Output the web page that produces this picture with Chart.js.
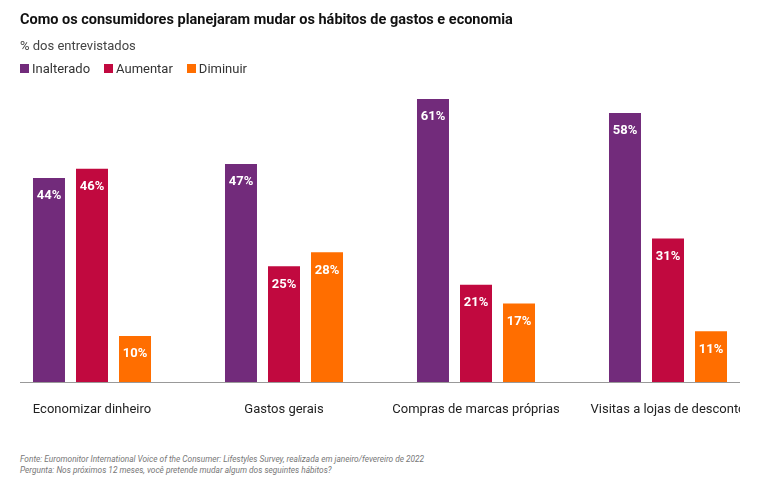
<!DOCTYPE html>
<html><head><meta charset="utf-8">
<script src="https://cdn.jsdelivr.net/npm/chart.js@4"></script>
<style>
body{margin:0;width:761px;height:491px;background:#fff;font-family:Roboto,"Liberation Sans",sans-serif;position:relative;overflow:hidden}
#t{position:absolute;left:20px;top:11px;font-weight:bold;font-size:14.5px;color:#111}
#s{position:absolute;left:20px;top:38px;font-size:13px;color:#444}
#lg{position:absolute;left:20px;top:61px;font-size:13px;color:#333}
#lg span{margin-right:14px}
#lg i{display:inline-block;width:9px;height:9px;margin-right:3px}
#f{position:absolute;left:20px;top:454px;font-size:8.3px;font-style:italic;color:#777;line-height:11px}
#w{position:absolute;left:0;top:0;width:740px;height:430px;overflow:hidden}
#cw{position:absolute;left:-4px;top:0;width:768px;height:430px}
</style></head><body>
<div id="w"><div id="cw"><canvas id="c"></canvas></div></div>
<div id="t">Como os consumidores planejaram mudar os hábitos de gastos e economia</div>
<div id="s">% dos entrevistados</div>
<div id="lg"><span><i style="background:#722B7B"></i>Inalterado</span><span><i style="background:#C1093F"></i>Aumentar</span><span><i style="background:#FF6E00"></i>Diminuir</span></div>
<div id="f">Fonte: Euromonitor International Voice of the Consumer: Lifestyles Survey, realizada em janeiro/fevereiro de 2022<br>Pergunta: Nos próximos 12 meses, você pretende mudar algum dos seguintes hábitos?</div>
<script>
const categories=["Economizar dinheiro","Gastos gerais","Compras de marcas próprias","Visitas a lojas de desconto"];
const inalterado=[44,47,61,58];
const aumentar=[46,25,21,31];
const diminuir=[10,28,17,11];
const seriesNames=["Inalterado","Aumentar","Diminuir"];
const colors=["#722B7B","#C1093F","#FF6E00"];
const labelsPlugin={id:'lbl',afterDatasetsDraw(ch){const c=ch.ctx;c.save();c.fillStyle='#fff';c.font='bold 13px Roboto, sans-serif';c.textAlign='center';c.textBaseline='middle';
ch.data.datasets.forEach((d,i)=>{ch.getDatasetMeta(i).data.forEach((b,j)=>{c.fillText(d.data[j]+'%',b.x,b.y+18);});});
const a=ch.chartArea;c.strokeStyle='#999';c.lineWidth=1;c.beginPath();c.moveTo(24,Math.round(a.bottom)+0.5);c.lineTo(744,Math.round(a.bottom)+0.5);c.stroke();c.restore();}};
new Chart(document.getElementById('c'),{type:'bar',
data:{labels:categories,datasets:[inalterado,aumentar,diminuir].map((d,i)=>({label:seriesNames[i],data:d,backgroundColor:colors[i],categoryPercentage:0.672,barPercentage:0.744}))},
options:{responsive:true,maintainAspectRatio:false,animation:false,
layout:{padding:{top:99,left:0,right:0,bottom:0}},
plugins:{legend:{display:false},tooltip:{enabled:false}},
scales:{x:{grid:{display:false},border:{display:false},ticks:{color:'#222',font:{size:13,family:'Roboto'},padding:12}},
y:{display:false,min:0,max:61}}},
plugins:[labelsPlugin]});
</script></body></html>
